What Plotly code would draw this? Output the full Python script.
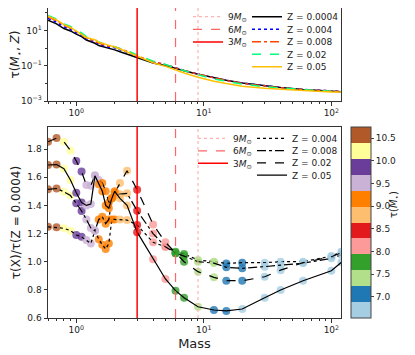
import numpy as np
import plotly.graph_objects as go
from plotly.subplots import make_subplots

# stellar masses of the grid (Msun)
masses = [0.6, 0.7, 0.8, 0.9, 1.0, 1.1, 1.2, 1.3, 1.4, 1.5, 1.6, 1.7, 1.8, 1.9, 2.0, 2.2, 2.5,
          3, 4, 5, 6, 7, 9, 12, 15, 20, 30, 40, 60, 100, 120]

# lifetime at Z = 0.0004 (Gyr)
tau_z0004 = [39, 24, 13, 9.5, 6.3, 4.5, 2.9, 2.4, 1.9, 1.4, 1.25, 1.1, 1.0, 0.9, 0.8, 0.62, 0.45,
             0.27, 0.145, 0.105, 0.07, 0.052, 0.033, 0.02, 0.015, 0.0105, 0.0072, 0.0058, 0.0045, 0.0035, 0.0033]

# tau(Z) / tau(Z=0.0004)
ratio_z004 = [1.248, 1.244, 1.237, 1.22, 1.19, 1.177, 1.154, 1.13, 1.22, 1.16, 1.12, 1.09, 1.13, 1.30, 1.30,
              1.30, 1.296, 1.26, 1.138, 1.106, 1.071, 1.055, 1.012, 1.0, 0.988, 0.993, 0.993, 1.0, 1.0, 1.04, 1.07]
ratio_z008 = [1.514, 1.52, 1.497, 1.47, 1.415, 1.36, 1.30, 1.24, 1.22, 1.30, 1.32, 1.27, 1.30, 1.45, 1.47,
              1.48, 1.486, 1.362, 1.20, 1.106, 1.06, 1.04, 1.0, 0.99, 0.96, 0.953, 0.965, 0.976, 0.99, 1.024, 1.05]
ratio_z02 = [1.852, 1.878, 1.852, 1.79, 1.715, 1.64, 1.545, 1.54, 1.615, 1.58, 1.56, 1.50, 1.42, 1.45, 1.49,
             1.56, 1.646, 1.512, 1.265, 1.138, 1.06, 1.0, 0.929, 0.889, 0.865, 0.865, 0.893, 0.94, 0.993, 1.035, 1.064]
ratio_z05 = [1.687, 1.69, 1.66, 1.58, 1.49, 1.42, 1.40, 1.41, 1.61, 1.55, 1.50, 1.40, 1.38, 1.45, 1.50,
             1.45, 1.40, 1.21, 1.017, 0.877, 0.794, 0.744, 0.68, 0.657, 0.65, 0.664, 0.744, 0.799, 0.865, 0.936, 0.996]

mass_lines = [9, 6, 3]
z_labels = ['0.0004', '0.004', '0.008', '0.02', '0.05']
cbar_ticks = [7.0, 7.5, 8.0, 8.5, 9.0, 9.5, 10.0, 10.5]

paired = ['#a6cee3', '#1f78b4', '#b2df8a', '#33a02c', '#fb9a99', '#e31a1c',
          '#fdbf6f', '#ff7f00', '#cab2d6', '#6a3d9a', '#ffff99', '#b15928']
stepped = []
for i, c in enumerate(paired):
    stepped.append([i / len(paired), c])
    stepped.append([(i + 1) / len(paired), c])

FONT = 'DejaVu Sans'
OFF = 8  # the page body adds an 8px margin round the figure
W, H = 415 - OFF, 355 - OFF
ML, MR, MT, MB = 48 - OFF, 74, 0, 37
PW, PH = W - ML - MR, H - MT - MB


def px_x(p):
    # page pixel -> paper x
    return (p - OFF - ML) / PW


def px_y(p):
    # page pixel -> paper y
    return (H - MB - (p - OFF)) / PH


fig = make_subplots(rows=2, cols=1)

tau0 = np.array(tau_z0004)
ratios = [np.ones(len(masses)), np.array(ratio_z004), np.array(ratio_z008), np.array(ratio_z02), np.array(ratio_z05)]
top_styles = [('black', 'solid'), ('blue', 'dot'), ('#ff4500', 'dashdot'), ('#00ff7f', 'dash'), ('#ffc000', 'solid')]

# top panel: lifetimes
for z, r, (col, dash) in zip(z_labels, ratios, top_styles):
    fig.add_trace(go.Scatter(x=masses, y=tau0 * r, mode='lines', line=dict(color=col, dash=dash, width=1.5),
                             showlegend=False, hoverinfo='skip'), row=1, col=1)

# bottom panel: ratios with coloured markers
bot_dash = ['dot', 'dashdot', 'dash', 'solid']
for k, (r, dash) in enumerate(zip(ratios[1:], bot_dash)):
    logtau = np.log10(tau0 * r * 1e9)
    fig.add_trace(go.Scatter(
        x=masses, y=r, mode='markers',
        marker=dict(color=logtau, colorscale=stepped, cmin=6.53, cmax=10.75, size=8, opacity=0.8,
                    line=dict(width=0),
                    showscale=(k == 0),
                    colorbar=dict(x=px_x(351), xanchor='left', y=0, yanchor='bottom', len=px_y(127),
                                  lenmode='fraction', thickness=20, xpad=0, ypad=0,
                                  outlinewidth=1, outlinecolor='#444',
                                  tickvals=cbar_ticks, ticktext=[f'{t:.1f}' for t in cbar_ticks],
                                  ticks='outside', ticklen=3, tickfont=dict(size=9, color='#222'))),
        showlegend=False, hoverinfo='skip'), row=2, col=1)
    fig.add_trace(go.Scatter(x=masses, y=r, mode='lines', line=dict(color='black', dash=dash, width=1.2),
                             showlegend=False, hoverinfo='skip'), row=2, col=1)

# colour bar label, read bottom to top as in the original
fig.add_annotation(text='τ(<i>M</i><sub>⋆</sub>)', textangle=-90, xref='paper', yref='paper',
                   x=px_x(403), y=px_y(220), showarrow=False, font=dict(size=10, color='#222'))

# vertical mass markers
mass_styles = [dict(color='#ffb3b3', dash='dot', width=1.2),
               dict(color='#ff6666', dash='dash', width=1.2),
               dict(color='#ff0000', dash='solid', width=1.5)]
for row in (1, 2):
    for m, st in zip(mass_lines, mass_styles):
        fig.add_vline(x=m, line=st, row=row, col=1)

# legends, one entry per legend box so the spacing can follow the original
legend_cfg = {}
n = [0]


def legend_entry(name, line, row, x_text, y_center):
    n[0] += 1
    lname = 'legend' if n[0] == 1 else f'legend{n[0]}'
    fig.add_trace(go.Scatter(x=[None], y=[None], mode='lines', line=line, name=name,
                             legend=lname, showlegend=True), row=row, col=1)
    legend_cfg[lname] = dict(x=px_x(x_text - 40), y=px_y(y_center), xanchor='left', yanchor='middle',
                             bgcolor='rgba(0,0,0,0)', borderwidth=0, itemwidth=30,
                             font=dict(size=9, family=FONT, color='#222'))


mass_names = [f'{m}<i>M</i><sub>⊙</sub>' for m in mass_lines]
for i, (nm, st) in enumerate(zip(mass_names, mass_styles)):
    legend_entry(nm, st, 1, 228, 16.7 + 12.6 * i)
for i, (z, (col, dash)) in enumerate(zip(z_labels, top_styles)):
    legend_entry(f'Z = {z}', dict(color=col, dash=dash, width=1.5), 1, 287, 16.7 + 12.5 * i)
for i, (nm, st) in enumerate(zip(mass_names, mass_styles)):
    legend_entry(nm, st, 2, 233, 138.3 + 12.5 * i)
for i, (z, dash) in enumerate(zip(z_labels[1:], bot_dash)):
    legend_entry(f'Z = {z}', dict(color='black', dash=dash, width=1.2), 2, 292, 138.3 + 12.3 * i)

minor_x = [0.6, 0.7, 0.8, 0.9, 2, 3, 4, 5, 6, 7, 8, 9, 20, 30, 40, 50, 60, 70, 80, 90]
xaxis_style = dict(type='log', range=[np.log10(0.6), np.log10(119)],
                   tickvals=[1, 10, 100], ticktext=['10<sup>0</sup>', '10<sup>1</sup>', '10<sup>2</sup>'],
                   ticks='outside', ticklen=3.5, tickcolor='#333', showgrid=False, zeroline=False,
                   showline=True, linecolor='#333', linewidth=1, mirror=True,
                   minor=dict(tickvals=minor_x, ticks='outside', ticklen=2, tickcolor='#333'),
                   tickfont=dict(size=9, color='#222'))

fig.update_xaxes(**xaxis_style)
fig.update_xaxes(title=dict(text='Mass', font=dict(size=13, color='#222'), standoff=4), row=2, col=1)

fig.update_yaxes(type='log', range=[-3, 2.28], tickvals=[1e-3, 1e-1, 10],
                 ticktext=['10<sup>−3</sup>', '10<sup>−1</sup>', '10<sup>1</sup>'],
                 minor=dict(tickvals=[1e-2, 1, 100], ticks='outside', ticklen=2, tickcolor='#333'),
                 title=dict(text='τ(<i>M</i><sub>⋆</sub>, <i>Z</i>)', font=dict(size=12, color='#222'), standoff=3),
                 row=1, col=1)
fig.update_yaxes(range=[0.6, 1.957], tickvals=[0.6, 0.8, 1.0, 1.2, 1.4, 1.6, 1.8],
                 ticktext=['0.6', '0.8', '1.0', '1.2', '1.4', '1.6', '1.8'],
                 title=dict(text='τ(X)/τ(Z = 0.0004)', font=dict(size=12, color='#222'), standoff=4),
                 row=2, col=1)
fig.update_yaxes(ticks='outside', ticklen=3.5, tickcolor='#333', showgrid=False, zeroline=False,
                 showline=True, linecolor='#333', linewidth=1, mirror=True,
                 tickfont=dict(size=9, color='#222'))

fig.update_layout(
    width=W, height=H,
    margin=dict(l=ML, r=MR, t=MT, b=MB, autoexpand=False),
    paper_bgcolor='white', plot_bgcolor='white',
    font=dict(family=FONT, color='#222'),
    xaxis=dict(domain=[0, 1]), xaxis2=dict(domain=[0, 1]),
    yaxis=dict(domain=[px_y(101), 1]), yaxis2=dict(domain=[0, px_y(127)]),
    **legend_cfg,
)

fig.write_html('out.html')
